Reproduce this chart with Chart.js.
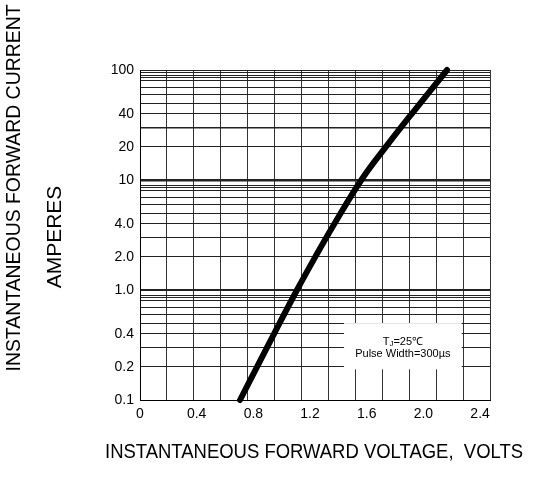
<!DOCTYPE html>
<html>
<head>
<meta charset="utf-8">
<script src="https://cdn.jsdelivr.net/npm/chart.js@4/dist/chart.umd.min.js"></script>
<style>
body { margin: 0; background: #fff; }
canvas { display: block; }
</style>
</head>
<body>
<canvas id="chart" width="544" height="497"></canvas>
<script>
// Forward voltage (V) vs instantaneous forward current (A)
const voltage = [0.706, 0.826, 0.946, 1.108, 1.237, 1.372, 1.562, 1.735, 1.918, 2.167];
const current = [0.1, 0.2, 0.4, 1.0, 2.0, 4.0, 10, 20, 40, 100];

// Tick labels
const xTicks = [0, 0.4, 0.8, 1.2, 1.6, 2.0, 2.4];
const xTickLabels = ['0', '0.4', '0.8', '1.2', '1.6', '2.0', '2.4'];
const yTicks = [0.1, 0.2, 0.4, 1, 2, 4, 10, 20, 40, 100];
const yTickLabels = ['0.1', '0.2', '0.4', '1.0', '2.0', '4.0', '10', '20', '40', '100'];

// Grid: log lines inside each decade, plus the vertical divisions
const decades = [0.1, 1, 10];
const decadeSteps = [1, 2, 3, 4, 5, 6, 7, 8, 8.5, 9];
const topExtra = [95, 100];
const xGridDivisions = 13;

const yGrid = [];
decades.forEach(d => decadeSteps.forEach(s => yGrid.push(+(s * d).toPrecision(6))));
topExtra.forEach(v => yGrid.push(v));

const font = '"Liberation Sans", Arial, sans-serif';

function yLabel(v) {
    const i = yTicks.findIndex(t => Math.abs(t - v) < 1e-9);
    return i > -1 ? yTickLabels[i] : '';
}

function yLineWidth(ctx) {
    const v = ctx.tick ? ctx.tick.value : 0;
    if (v === 10) return 2.5;
    if (v === 1) return 2;
    if (v === 30) return 1.5;
    return 1;
}

// Axis titles
const titlePlugin = {
    id: 'titles',
    afterDraw(chart) {
        const c = chart.ctx;
        c.save();
        c.fillStyle = '#000';
        c.textAlign = 'center';
        c.textBaseline = 'middle';
        c.font = '20px ' + font;

        c.save();
        c.translate(14, 188);
        c.rotate(-Math.PI / 2);
        c.fillText('INSTANTANEOUS FORWARD CURRENT', 0, 0, 367);
        c.restore();

        c.save();
        c.translate(55, 237);
        c.rotate(-Math.PI / 2);
        c.font = '21px ' + font;
        c.fillText('AMPERES', 0, 0);
        c.restore();

        c.fillText('INSTANTANEOUS FORWARD VOLTAGE,  VOLTS', 314, 452, 418);
        c.restore();
    }
};

// Test condition note in a white box over the grid
const notePlugin = {
    id: 'note',
    beforeDatasetsDraw(chart) {
        const { x, y } = chart.scales;
        const left = x.getPixelForValue(1.44);
        const right = x.getPixelForValue(2.27);
        const top = y.getPixelForValue(0.5);
        const bottom = y.getPixelForValue(0.19);
        const c = chart.ctx;
        c.save();
        c.fillStyle = '#fff';
        c.fillRect(left, top, right - left, bottom - top);

        const cx = (left + right) / 2;
        c.fillStyle = '#000';
        c.textBaseline = 'middle';
        c.font = '11px ' + font;
        const wT = c.measureText('T').width;
        const wRest = c.measureText('=25\u2103').width;
        c.font = '8px ' + font;
        const wJ = c.measureText('J').width;
        const px = cx - (wT + wJ + wRest) / 2;
        c.textAlign = 'left';
        c.font = '11px ' + font;
        c.fillText('T', px, top + 19);
        c.font = '8px ' + font;
        c.fillText('J', px + wT, top + 21);
        c.font = '11px ' + font;
        c.fillText('=25\u2103', px + wT + wJ, top + 19);

        c.textAlign = 'center';
        c.fillText('Pulse Width=300\u00b5s', cx, top + 31);
        c.restore();
    }
};

const points = voltage.map((v, i) => ({ x: v, y: current[i] }));

new Chart(document.getElementById('chart'), {
    type: 'line',
    data: {
        datasets: [{
            data: points,
            borderColor: '#000',
            borderWidth: 6,
            borderCapStyle: 'round',
            pointRadius: 0,
            tension: 0.4,
            clip: 4
        }]
    },
    options: {
        responsive: false,
        animation: false,
        layout: { padding: { top: 70, right: 54, left: 0, bottom: 0 } },
        plugins: {
            legend: { display: false },
            tooltip: { enabled: false }
        },
        scales: {
            x: {
                type: 'linear',
                position: 'bottom',
                min: 0,
                max: 2.47,
                afterBuildTicks: s => { s.ticks = xTicks.map(v => ({ value: v })); },
                afterFit: s => { s.height = 97; },
                grid: { display: false, drawTicks: false },
                border: { display: true, color: '#000', width: 1 },
                ticks: {
                    autoSkip: false,
                    maxRotation: 0,
                    padding: 6,
                    color: '#000',
                    font: { family: font, size: 14 },
                    callback: (v, i) => xTickLabels[i]
                }
            },
            xg: {
                type: 'linear',
                position: 'top',
                min: 0,
                max: xGridDivisions,
                afterBuildTicks: s => {
                    s.ticks = [];
                    for (let i = 0; i <= xGridDivisions; i++) s.ticks.push({ value: i });
                },
                afterFit: s => { s.height = 0; },
                grid: { color: '#333', lineWidth: 1, drawTicks: false },
                border: { display: false },
                ticks: { display: false }
            },
            y: {
                type: 'logarithmic',
                min: 0.1,
                max: 100,
                afterBuildTicks: s => { s.ticks = yGrid.map(v => ({ value: v })); },
                afterFit: s => { s.width = 140; },
                grid: { color: '#222', lineWidth: yLineWidth, drawTicks: false },
                border: { display: true, color: '#000', width: 1 },
                ticks: {
                    autoSkip: false,
                    padding: 6,
                    color: '#000',
                    font: { family: font, size: 14 },
                    callback: v => yLabel(v)
                }
            }
        }
    },
    plugins: [notePlugin, titlePlugin]
});
</script>
</body>
</html>
